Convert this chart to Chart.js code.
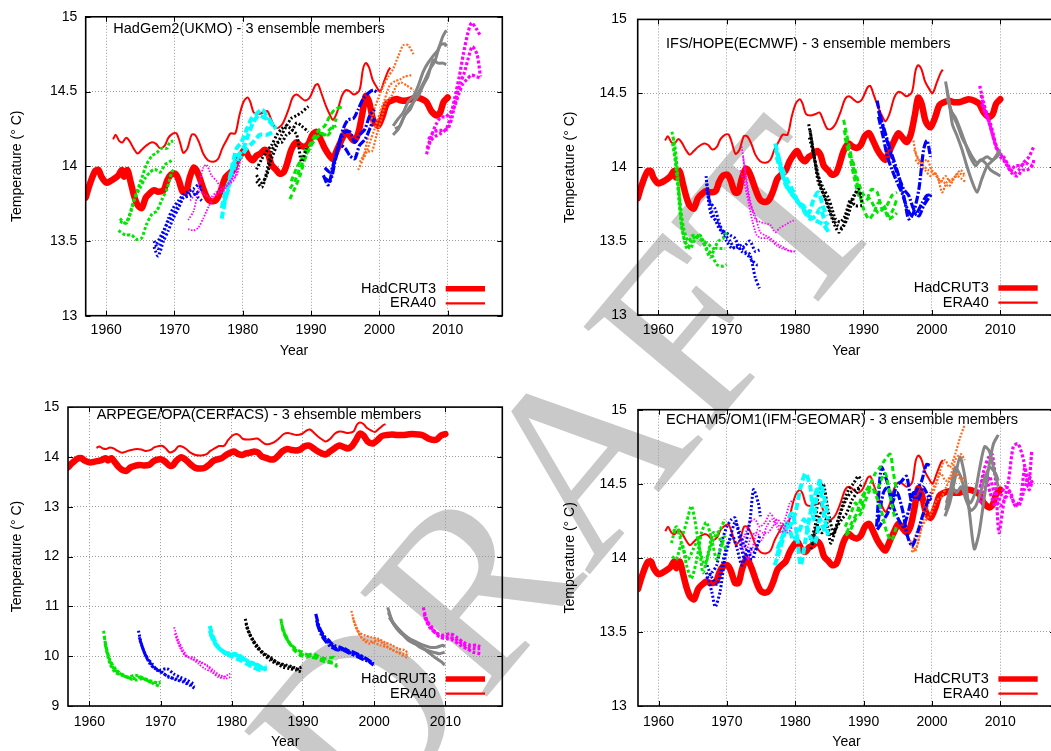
<!DOCTYPE html>
<html>
<head>
<meta charset="utf-8">
<script src="https://cdn.jsdelivr.net/npm/chart.js@4.4.1/dist/chart.umd.min.js"></script>
<style>
html,body{margin:0;padding:0;background:#fff;width:1051px;height:751px;overflow:hidden;position:relative;}
#wm{position:absolute;left:564px;top:474px;transform:translate(-50%,-50%) rotate(-50deg);font-family:"Liberation Serif","DejaVu Serif",serif;font-size:250px;line-height:1;color:#c9c9c9;white-space:nowrap;}
canvas{position:absolute;}
</style>
</head>
<body>
<div id="wm">DRAFT</div>
<canvas id="tl" width="525" height="375" style="left:0;top:0;width:525px;height:375px"></canvas>
<canvas id="tr" width="500" height="375" style="left:560px;top:0;width:500px;height:375px"></canvas>
<canvas id="bl" width="525" height="361" style="left:0;top:390px;width:525px;height:361px"></canvas>
<canvas id="br" width="500" height="361" style="left:560px;top:390px;width:500px;height:361px"></canvas>
<script>
// ---------------- axes ----------------
const xTicks = [1960,1970,1980,1990,2000,2010];
const xTickLabels = ['1960','1970','1980','1990','2000','2010'];
const yTicksStd = [13,13.5,14,14.5,15];
const yTickLabelsStd = ['13','13.5','14','14.5','15'];
const yTicksArpege = [9,10,11,12,13,14,15];
const yTickLabelsArpege = ['9','10','11','12','13','14','15'];
const panelTitles = ['HadGem2(UKMO) - 3 ensemble members','IFS/HOPE(ECMWF) - 3 ensemble members','ARPEGE/OPA(CERFACS) - 3 ensemble members','ECHAM5/OM1(IFM-GEOMAR) - 3 ensemble members'];
const legendLabels = ['HadCRUT3','ERA40'];

// ---------------- observations ----------------
const hadcrut3 = [[1957.0,13.79],[1957.6,13.88],[1958.4,13.97],[1958.9,13.975],[1959.3,13.93],[1960.0,13.89],[1960.6,13.90],[1961.3,13.92],[1961.8,13.94],
[1962.3,13.975],[1962.6,13.93],[1963.1,13.975],[1963.6,13.89],[1964.1,13.80],[1964.6,13.74],[1965.2,13.72],[1965.8,13.79],[1966.4,13.82],
[1967.0,13.84],[1967.6,13.83],[1968.4,13.84],[1968.9,13.90],[1969.4,13.94],[1970.1,13.95],[1970.6,13.91],[1971.2,13.83],[1971.7,13.83],
[1972.2,13.92],[1972.8,13.99],[1973.2,13.975],[1973.7,13.92],[1974.3,13.84],[1974.9,13.78],[1975.6,13.765],[1976.2,13.78],[1976.8,13.84],
[1977.4,13.92],[1978.0,13.95],[1978.6,13.975],[1979.2,14.04],[1979.8,14.085],[1980.3,14.11],[1980.9,14.06],[1981.5,14.04],[1982.0,14.07],
[1982.6,14.085],[1983.2,14.11],[1983.7,14.085],[1984.2,14.01],[1984.9,13.975],[1985.4,13.95],[1986.0,13.96],[1986.5,14.02],[1987.1,14.11],
[1987.8,14.16],[1988.4,14.14],[1989.0,14.13],[1989.6,14.15],[1990.2,14.21],[1990.8,14.23],[1991.4,14.18],[1992.0,14.12],[1992.7,14.07],
[1993.2,14.05],[1993.8,14.11],[1994.5,14.18],[1995.1,14.23],[1995.7,14.20],[1996.3,14.17],[1996.9,14.22],[1997.5,14.35],[1998.0,14.47],
[1998.5,14.43],[1999.1,14.31],[1999.8,14.27],[2000.5,14.34],[2001.1,14.42],[2001.8,14.44],[2002.5,14.45],[2003.2,14.44],[2004.0,14.44],
[2004.7,14.45],[2005.4,14.46],[2006.2,14.45],[2006.9,14.43],[2007.6,14.37],[2008.4,14.34],[2008.9,14.36],[2009.4,14.43],[2010.0,14.46]];

const era40 = [[1961.0,14.18],[1961.4,14.21],[1961.9,14.17],[1962.4,14.16],[1962.9,14.19],[1963.4,14.17],[1964.0,14.12],[1964.6,14.085],
[1965.2,14.11],[1965.9,14.14],[1966.7,14.16],[1967.3,14.15],[1967.9,14.12],[1968.6,14.14],[1969.1,14.19],[1969.8,14.22],[1970.3,14.22],
[1970.8,14.16],[1971.3,14.09],[1971.9,14.12],[1972.5,14.21],[1973.0,14.21],[1973.6,14.16],[1974.2,14.085],[1974.9,14.04],[1975.7,14.03],
[1976.4,14.05],[1977.0,14.12],[1977.7,14.18],[1978.2,14.22],[1978.9,14.22],[1979.5,14.34],[1980.1,14.43],[1980.7,14.46],[1981.1,14.43],
[1981.6,14.36],[1982.3,14.35],[1983.0,14.36],[1983.6,14.37],[1984.1,14.32],[1984.7,14.26],[1985.3,14.26],[1985.9,14.29],[1986.7,14.38],
[1987.3,14.46],[1987.9,14.48],[1988.5,14.46],[1989.1,14.44],[1989.8,14.46],[1990.6,14.54],[1991.0,14.55],[1991.5,14.49],[1992.2,14.40],
[1992.8,14.34],[1993.2,14.31],[1993.8,14.36],[1994.5,14.47],[1995.1,14.51],[1995.7,14.50],[1996.3,14.48],[1997.1,14.51],[1997.6,14.65],
[1998.0,14.69],[1998.5,14.66],[1999.0,14.58],[1999.6,14.53],[2000.1,14.50],[2000.7,14.57],[2001.3,14.64],[2001.6,14.66]];

// ---------------- HadGem2 (UKMO) ensemble members ----------------
const hadgem2_1962 = [
 [[1962.0,13.63],[1963.0,13.62],[1963.7,13.72],[1964.5,13.83],[1965.2,13.92],[1965.9,14.01],[1966.7,14.07],[1967.4,14.09],[1968.1,14.12],[1968.9,14.12],[1969.3,14.16],[1969.8,14.17]],
 [[1961.8,13.57],[1962.8,13.54],[1963.7,13.54],[1964.5,13.51],[1965.2,13.52],[1965.9,13.61],[1966.7,13.68],[1967.4,13.70],[1968.1,13.77],[1968.9,13.85],[1969.6,13.96],[1969.9,13.98]],
 [[1962.0,13.65],[1962.8,13.62],[1963.5,13.68],[1964.2,13.79],[1964.9,13.85],[1965.7,13.92],[1966.4,13.96],[1967.1,13.98],[1967.9,13.96],[1968.6,14.01],[1969.3,14.03],[1969.8,14.05]]];
const hadgem2_1967 = [
 [[1967.0,13.50],[1967.6,13.45],[1968.4,13.55],[1969.1,13.65],[1969.8,13.72],[1970.6,13.77],[1971.3,13.81],[1972.0,13.83],[1972.8,13.85],[1973.5,13.875],[1974.0,13.85]],
 [[1967.0,13.46],[1967.6,13.40],[1968.4,13.50],[1969.1,13.57],[1969.8,13.65],[1970.6,13.72],[1971.3,13.79],[1972.0,13.81],[1972.8,13.83],[1973.5,13.79],[1974.0,13.77]],
 [[1967.4,13.48],[1968.4,13.57],[1969.1,13.63],[1969.8,13.68],[1970.6,13.74],[1971.3,13.79],[1972.3,13.80],[1973.2,13.82],[1974.0,13.85]]];
const hadgem2_1972 = [
 [[1972.0,13.64],[1972.8,13.70],[1973.5,13.85],[1974.2,13.99],[1974.7,14.01],[1975.4,13.94],[1976.2,13.90],[1976.9,13.85],[1977.6,13.875],[1978.6,13.90],[1979.3,13.99]],
 [[1972.0,13.58],[1972.8,13.57],[1973.5,13.59],[1974.2,13.65],[1975.0,13.73],[1975.7,13.79],[1976.4,13.82],[1977.1,13.83],[1978.1,13.90],[1979.1,13.94],[1979.6,14.03]],
 [[1972.3,13.77],[1973.0,13.81],[1973.7,13.83],[1974.5,13.81],[1975.2,13.79],[1976.2,13.83],[1977.1,13.85],[1978.1,13.89],[1979.1,13.99],[1979.6,14.05]]];
const hadgem2_1977 = [
 [[1976.9,13.65],[1977.6,13.81],[1978.4,13.99],[1979.1,14.12],[1979.8,14.16],[1980.6,14.25],[1981.3,14.32],[1982.0,14.35],[1982.8,14.38],[1983.5,14.34],[1984.2,14.29],[1984.9,14.25]],
 [[1977.1,13.74],[1977.9,13.85],[1978.6,14.01],[1979.3,14.07],[1980.1,14.12],[1980.8,14.21],[1981.5,14.29],[1982.3,14.34],[1983.0,14.33],[1983.7,14.31],[1984.5,14.27]],
 [[1976.9,13.72],[1977.6,13.85],[1978.4,13.94],[1979.1,14.03],[1979.8,14.07],[1980.6,14.12],[1981.5,14.16],[1982.5,14.21],[1983.5,14.21],[1984.5,14.23]]];
const hadgem2_1982 = [
 [[1982.0,13.94],[1982.8,13.89],[1983.5,13.94],[1984.2,14.05],[1985.0,14.14],[1985.7,14.21],[1986.4,14.27],[1987.1,14.32],[1987.9,14.34],[1988.6,14.36],[1989.6,14.40]],
 [[1982.0,13.90],[1982.8,13.86],[1983.5,13.96],[1984.2,14.10],[1985.0,14.16],[1985.7,14.16],[1986.4,14.21],[1987.1,14.23],[1987.9,14.29],[1988.6,14.27],[1989.6,14.23]],
 [[1982.0,13.98],[1982.8,14.05],[1983.5,14.10],[1984.2,14.14],[1985.0,14.21],[1985.7,14.25],[1986.4,14.27],[1987.1,14.25],[1987.9,14.21],[1988.6,14.03],[1989.3,14.12]]];
const hadgem2_1987 = [
 [[1986.9,13.78],[1987.6,13.85],[1988.4,13.94],[1989.1,14.05],[1989.8,14.14],[1990.6,14.21],[1991.3,14.25],[1992.0,14.27],[1992.8,14.34],[1993.5,14.38],[1994.7,14.40]],
 [[1986.9,13.85],[1987.6,13.90],[1988.4,13.99],[1989.1,14.05],[1989.8,14.12],[1990.6,14.18],[1991.3,14.21],[1992.0,14.21],[1992.8,14.25],[1993.7,14.27]],
 [[1987.1,13.90],[1987.9,13.99],[1988.6,14.05],[1989.3,14.12],[1990.1,14.16],[1990.8,14.21],[1991.5,14.22],[1992.5,14.21],[1993.2,14.26],[1993.7,14.32]]];
const hadgem2_1992 = [
 [[1991.8,13.94],[1992.5,13.875],[1993.2,13.99],[1994.0,14.14],[1994.7,14.25],[1995.4,14.31],[1996.2,14.32],[1996.9,14.38],[1997.6,14.45],[1998.4,14.49],[1999.1,14.51],[1999.8,14.49]],
 [[1992.0,13.92],[1992.8,13.90],[1993.5,14.03],[1994.2,14.16],[1995.0,14.23],[1995.7,14.23],[1996.4,14.16],[1997.1,14.21],[1997.9,14.25],[1998.6,14.34],[1999.3,14.38]],
 [[1992.0,13.99],[1992.8,13.96],[1993.5,14.05],[1994.2,14.14],[1995.0,14.12],[1995.7,14.07],[1996.4,14.05],[1997.1,14.14],[1997.9,14.18],[1998.6,14.25],[1999.3,14.32]]];
const hadgem2_1997 = [
 [[1996.9,13.975],[1997.6,14.05],[1998.4,14.21],[1999.1,14.36],[1999.8,14.45],[2000.6,14.54],[2001.3,14.60],[2002.0,14.65],[2002.8,14.74],[2003.5,14.81],[2004.2,14.81],[2005.0,14.75]],
 [[1997.1,14.03],[1997.9,14.07],[1998.6,14.16],[1999.3,14.25],[2000.1,14.36],[2000.8,14.45],[2001.5,14.54],[2002.3,14.57],[2003.0,14.58],[2003.7,14.60],[2004.7,14.61]],
 [[1997.4,14.05],[1998.1,14.10],[1998.9,14.10],[1999.6,14.21],[2000.3,14.32],[2001.0,14.43],[2001.8,14.47],[2002.5,14.54],[2003.2,14.56],[2004.0,14.54],[2005.0,14.51]]];
const hadgem2_2002 = [
 [[2002.0,14.27],[2002.8,14.32],[2003.5,14.36],[2004.2,14.43],[2005.0,14.47],[2005.7,14.54],[2006.4,14.63],[2007.1,14.69],[2007.9,14.74],[2008.6,14.78],[2009.3,14.87],[2009.8,14.91]],
 [[2002.0,14.21],[2002.8,14.25],[2003.5,14.32],[2004.2,14.38],[2005.0,14.43],[2005.7,14.47],[2006.4,14.54],[2007.1,14.60],[2007.9,14.71],[2008.6,14.69],[2009.3,14.69],[2009.8,14.68]],
 [[2002.3,14.25],[2003.0,14.27],[2003.7,14.34],[2004.5,14.38],[2005.2,14.45],[2005.9,14.51],[2006.7,14.58],[2007.4,14.65],[2008.1,14.70],[2008.9,14.81],[2009.6,14.82],[2009.8,14.80]]];
const hadgem2_2007 = [
 [[2006.9,14.08],[2007.5,14.17],[2008.2,14.20],[2009.0,14.22],[2009.8,14.25],[2010.4,14.33],[2011.0,14.45],[2011.7,14.60],[2012.3,14.75],[2012.9,14.88],[2013.5,14.96],[2014.2,14.92],[2014.7,14.88]],
 [[2007.0,14.12],[2007.6,14.20],[2008.3,14.28],[2009.0,14.33],[2009.7,14.33],[2010.4,14.36],[2011.0,14.40],[2011.6,14.48],[2012.2,14.55],[2012.8,14.58],[2013.5,14.61],[2014.2,14.60],[2014.8,14.59]],
 [[2007.2,14.18],[2007.8,14.22],[2008.5,14.24],[2009.2,14.24],[2010.0,14.25],[2010.6,14.32],[2011.2,14.45],[2011.8,14.55],[2012.4,14.62],[2013.0,14.72],[2013.6,14.80],[2014.3,14.75],[2014.8,14.60]]];

// ---------------- IFS/HOPE (ECMWF) ensemble members ----------------
const ifs_1962 = [
 [[1962.0,14.24],[1962.5,14.12],[1963.0,13.85],[1963.4,13.61],[1964.2,13.45],[1964.9,13.50],[1965.6,13.54],[1966.4,13.50],[1967.1,13.45],[1967.8,13.41],[1968.6,13.34],[1969.5,13.33],[1970.0,13.34]],
 [[1962.1,14.16],[1962.7,13.98],[1963.2,13.76],[1963.7,13.59],[1964.4,13.50],[1965.1,13.54],[1965.9,13.52],[1966.6,13.50],[1967.3,13.48],[1968.1,13.45],[1968.8,13.50],[1969.5,13.52],[1970.0,13.56]],
 [[1962.2,14.20],[1962.8,13.90],[1963.3,13.65],[1963.9,13.50],[1964.7,13.45],[1965.4,13.52],[1966.1,13.54],[1966.9,13.46],[1967.6,13.39],[1968.3,13.45],[1969.0,13.45],[1969.8,13.45]]];
const ifs_1967 = [
 [[1967.0,13.94],[1967.3,13.79],[1967.8,13.67],[1968.6,13.63],[1969.3,13.56],[1970.0,13.50],[1970.8,13.45],[1971.5,13.47],[1972.2,13.43],[1973.0,13.41],[1973.7,13.37],[1974.4,13.34],[1974.8,13.34]],
 [[1967.1,13.85],[1967.6,13.76],[1968.3,13.72],[1969.0,13.61],[1969.8,13.54],[1970.5,13.50],[1971.2,13.45],[1972.0,13.47],[1972.7,13.43],[1973.4,13.41],[1974.2,13.25],[1974.8,13.18]],
 [[1967.1,13.89],[1967.7,13.72],[1968.3,13.65],[1969.0,13.58],[1969.8,13.56],[1970.5,13.54],[1971.2,13.52],[1972.0,13.45],[1972.7,13.47],[1973.4,13.50],[1974.2,13.43],[1974.8,13.44]]];
const ifs_1972 = [
 [[1972.2,14.14],[1972.7,13.98],[1973.2,13.83],[1973.7,13.72],[1974.2,13.65],[1974.9,13.63],[1975.6,13.62],[1976.4,13.61],[1977.1,13.56],[1977.8,13.59],[1978.6,13.61],[1979.3,13.63],[1979.8,13.64]],
 [[1972.0,13.98],[1972.6,13.89],[1973.2,13.76],[1973.8,13.63],[1974.4,13.54],[1975.1,13.52],[1975.9,13.52],[1976.6,13.50],[1977.3,13.47],[1978.1,13.45],[1978.8,13.44],[1979.8,13.43]],
 [[1972.4,14.07],[1972.9,13.89],[1973.4,13.76],[1974.2,13.67],[1974.9,13.56],[1975.6,13.54],[1976.4,13.52],[1977.1,13.49],[1977.8,13.47],[1978.6,13.45],[1979.3,13.43],[1980.0,13.43]]];
const ifs_1977 = [
 [[1977.1,14.16],[1977.6,14.07],[1978.3,13.92],[1979.0,13.85],[1979.8,13.81],[1980.5,13.76],[1981.2,13.72],[1982.0,13.67],[1982.7,13.65],[1983.4,13.63],[1984.2,13.61],[1984.9,13.56]],
 [[1977.2,14.12],[1977.8,14.03],[1978.4,13.96],[1979.0,13.90],[1979.8,13.83],[1980.5,13.76],[1981.2,13.74],[1982.0,13.69],[1982.7,13.78],[1983.4,13.83],[1984.2,13.72],[1984.7,13.67]],
 [[1977.3,14.07],[1977.9,13.98],[1978.6,13.90],[1979.3,13.83],[1980.0,13.79],[1980.8,13.74],[1981.5,13.69],[1982.2,13.65],[1983.0,13.67],[1983.7,13.72],[1984.4,13.63],[1984.9,13.61]]];
const ifs_1982 = [
 [[1982.0,14.29],[1982.5,14.16],[1983.0,14.01],[1983.4,13.90],[1984.2,13.81],[1984.9,13.72],[1985.6,13.63],[1986.4,13.56],[1987.1,13.61],[1987.8,13.72],[1988.6,13.81],[1989.3,13.85],[1989.8,13.76]],
 [[1982.1,14.20],[1982.7,14.09],[1983.3,13.96],[1983.9,13.85],[1984.7,13.76],[1985.4,13.67],[1986.1,13.61],[1986.9,13.59],[1987.6,13.65],[1988.3,13.76],[1989.0,13.83],[1989.8,13.81]],
 [[1982.2,14.25],[1982.8,14.07],[1983.4,13.94],[1984.2,13.85],[1984.9,13.79],[1985.4,13.72],[1985.9,13.65],[1986.6,13.63],[1987.3,13.67],[1988.1,13.78],[1988.8,13.74],[1989.8,13.74]]];
const ifs_1987 = [
 [[1987.1,14.32],[1987.6,14.21],[1988.1,14.10],[1988.6,13.98],[1989.3,13.85],[1990.0,13.72],[1990.8,13.65],[1991.5,13.69],[1992.2,13.76],[1993.0,13.74],[1993.7,13.67],[1994.4,13.72],[1994.9,13.79]],
 [[1987.2,14.25],[1987.8,14.12],[1988.5,14.03],[1989.0,13.94],[1989.8,13.83],[1990.5,13.79],[1991.2,13.85],[1992.0,13.83],[1992.7,13.72],[1993.4,13.74],[1994.2,13.81],[1994.9,13.83]],
 [[1987.3,14.20],[1988.0,14.07],[1988.6,13.94],[1989.3,13.81],[1990.0,13.76],[1990.8,13.79],[1991.5,13.74],[1992.2,13.69],[1993.0,13.72],[1993.7,13.65],[1994.4,13.67],[1994.9,13.69]]];
const ifs_1992 = [
 [[1992.0,14.45],[1992.5,14.34],[1993.2,14.23],[1993.9,14.12],[1994.7,14.01],[1995.4,13.90],[1996.1,13.76],[1996.6,13.65],[1997.3,13.69],[1998.1,13.85],[1998.8,14.12],[1999.3,14.18],[1999.8,14.07]],
 [[1992.2,14.38],[1993.0,14.25],[1993.7,14.14],[1994.4,14.03],[1995.1,13.94],[1995.9,13.85],[1996.6,13.81],[1997.3,13.72],[1998.1,13.67],[1998.8,13.74],[1999.5,13.79],[2000.0,13.82]],
 [[1992.2,14.34],[1992.9,14.20],[1993.5,14.07],[1994.2,13.98],[1994.9,13.90],[1995.6,13.83],[1996.4,13.72],[1997.1,13.67],[1997.8,13.69],[1998.6,13.76],[1999.3,13.81],[2000.0,13.81]]];
const ifs_1997 = [
 [[1997.3,14.18],[1997.8,14.07],[1998.6,14.03],[1999.3,14.05],[2000.0,13.98],[2000.8,13.94],[2001.5,13.83],[2002.2,13.90],[2003.0,13.92],[2003.7,13.94],[2004.4,13.92],[2004.9,13.90]],
 [[1997.4,14.12],[1998.1,14.05],[1998.8,14.01],[1999.5,13.98],[2000.3,13.96],[2001.0,13.92],[2001.7,13.90],[2002.5,13.87],[2003.2,13.92],[2003.9,13.96],[2004.7,13.94]],
 [[1997.6,14.05],[1998.3,14.01],[1999.0,13.98],[1999.8,13.94],[2000.5,13.96],[2001.2,13.90],[2002.0,13.94],[2002.7,13.90],[2003.4,13.94],[2004.2,13.98],[2004.9,13.94]]];
const ifs_2002 = [
 [[2002.0,14.58],[2002.5,14.45],[2003.0,14.29],[2003.7,14.21],[2004.4,14.12],[2005.1,14.01],[2005.9,13.90],[2006.6,13.83],[2007.3,13.92],[2008.1,14.01],[2009.0,14.05],[2010.0,14.12]],
 [[2002.2,14.52],[2002.8,14.38],[2003.4,14.34],[2004.2,14.25],[2004.9,14.16],[2005.6,14.07],[2006.4,14.01],[2007.1,14.05],[2007.8,14.03],[2008.6,13.98],[2009.3,13.96],[2010.0,13.94]],
 [[2002.2,14.47],[2003.0,14.36],[2003.7,14.29],[2004.4,14.20],[2005.1,14.14],[2005.9,14.07],[2006.6,14.03],[2007.3,14.05],[2008.1,14.07],[2008.8,14.05],[2009.5,14.07],[2010.0,14.10]]];
const ifs_2007 = [
 [[2007.0,14.55],[2007.6,14.43],[2008.3,14.32],[2009.0,14.20],[2009.8,14.10],[2010.5,14.07],[2011.2,14.01],[2012.0,13.96],[2012.7,13.98],[2013.4,14.03],[2014.2,14.07],[2014.9,14.14]],
 [[2007.2,14.49],[2007.8,14.36],[2008.6,14.29],[2009.3,14.16],[2010.0,14.07],[2010.8,14.03],[2011.5,13.98],[2012.2,14.01],[2013.0,14.01],[2013.7,14.03],[2014.4,14.01],[2014.9,14.03]],
 [[2007.3,14.43],[2008.1,14.34],[2008.8,14.23],[2009.5,14.12],[2010.3,14.07],[2011.0,14.01],[2011.7,13.96],[2012.5,13.94],[2013.2,13.98],[2013.9,13.98],[2014.7,14.01],[2014.9,14.05]]];

// ---------------- ARPEGE/OPA (CERFACS) ensemble members ----------------
const arpege_1962 = [
 [[1962.0,10.51],[1962.4,10.12],[1962.9,9.85],[1963.6,9.68],[1964.5,9.62],[1965.5,9.58],[1966.4,9.62],[1967.3,9.58],[1968.3,9.52],[1969.2,9.48],[1969.9,9.45]],
 [[1962.1,10.38],[1962.7,9.98],[1963.4,9.75],[1964.3,9.65],[1965.2,9.58],[1966.2,9.55],[1967.1,9.58],[1968.0,9.52],[1969.0,9.45],[1969.9,9.39]],
 [[1962.2,10.25],[1962.9,9.92],[1963.8,9.72],[1964.8,9.62],[1965.7,9.55],[1966.6,9.52],[1967.6,9.55],[1968.5,9.48],[1969.5,9.47],[1970.0,9.48]]];
const arpege_1967 = [
 [[1966.9,10.51],[1967.3,10.25],[1968.0,9.98],[1968.8,9.85],[1969.5,9.72],[1970.4,9.65],[1971.3,9.58],[1972.3,9.52],[1973.2,9.48],[1974.1,9.42],[1974.8,9.35]],
 [[1967.0,10.38],[1967.6,10.12],[1968.3,9.92],[1969.0,9.78],[1969.9,9.72],[1970.9,9.75],[1971.8,9.65],[1972.7,9.58],[1973.7,9.52],[1974.6,9.45]],
 [[1967.1,10.32],[1967.8,10.05],[1968.5,9.85],[1969.2,9.75],[1970.2,9.68],[1971.1,9.58],[1972.0,9.55],[1973.0,9.52],[1973.9,9.45],[1974.8,9.39]]];
const arpege_1972 = [
 [[1971.9,10.58],[1972.5,10.32],[1973.2,10.12],[1973.9,9.98],[1974.8,9.92],[1975.8,9.88],[1976.7,9.78],[1977.6,9.65],[1978.6,9.58],[1979.8,9.65]],
 [[1972.0,10.45],[1972.7,10.18],[1973.4,10.02],[1974.4,9.95],[1975.3,9.85],[1976.2,9.75],[1977.2,9.68],[1978.1,9.58],[1979.1,9.55],[1979.8,9.58]],
 [[1972.2,10.38],[1973.0,10.12],[1973.7,9.98],[1974.6,9.98],[1975.5,9.88],[1976.5,9.82],[1977.4,9.72],[1978.3,9.62],[1979.3,9.58]]];
const arpege_1977 = [
 [[1976.9,10.61],[1977.4,10.38],[1978.1,10.18],[1978.8,10.08],[1979.8,10.05],[1980.7,10.02],[1981.6,9.95],[1982.6,9.88],[1983.5,9.82],[1984.4,9.75],[1984.9,9.78]],
 [[1976.9,10.51],[1977.6,10.28],[1978.3,10.15],[1979.3,10.05],[1980.2,9.98],[1981.2,9.92],[1982.1,9.85],[1983.0,9.78],[1984.0,9.72],[1984.9,9.75]],
 [[1977.0,10.45],[1977.8,10.22],[1978.6,10.12],[1979.5,10.02],[1980.5,10.05],[1981.4,9.98],[1982.3,9.88],[1983.3,9.85],[1984.2,9.78],[1984.9,9.80]]];
const arpege_1982 = [
 [[1981.9,10.75],[1982.3,10.51],[1983.0,10.32],[1983.7,10.18],[1984.4,10.05],[1985.4,9.98],[1986.3,9.88],[1987.2,9.82],[1988.1,9.78],[1989.1,9.75],[1989.8,9.78]],
 [[1982.0,10.65],[1982.6,10.42],[1983.3,10.25],[1984.0,10.12],[1984.9,10.02],[1985.8,9.92],[1986.8,9.85],[1987.7,9.82],[1988.6,9.78],[1989.6,9.72]],
 [[1982.1,10.58],[1982.8,10.35],[1983.5,10.18],[1984.4,10.05],[1985.4,9.92],[1986.3,9.85],[1987.2,9.78],[1988.1,9.75],[1989.1,9.72],[1989.8,9.68]]];
const arpege_1987 = [
 [[1986.9,10.75],[1987.2,10.51],[1987.8,10.32],[1988.6,10.18],[1989.6,10.05],[1990.5,10.02],[1991.5,10.05],[1992.4,9.98],[1993.3,9.95],[1994.3,9.98],[1994.7,9.92]],
 [[1987.0,10.65],[1987.6,10.38],[1988.4,10.22],[1989.3,10.12],[1990.3,10.05],[1991.2,9.98],[1992.2,9.95],[1993.1,9.92],[1994.0,9.88],[1994.8,9.82]],
 [[1987.1,10.58],[1987.8,10.35],[1988.6,10.15],[1989.6,10.02],[1990.5,9.98],[1991.5,10.02],[1992.4,9.92],[1993.3,9.88],[1994.3,9.85],[1994.8,9.78]]];
const arpege_1992 = [
 [[1991.8,10.85],[1992.3,10.58],[1992.9,10.42],[1993.6,10.32],[1994.3,10.22],[1995.2,10.18],[1996.1,10.12],[1997.1,10.08],[1998.0,10.02],[1998.9,9.95],[1999.9,9.85]],
 [[1991.9,10.72],[1992.5,10.48],[1993.1,10.35],[1993.8,10.25],[1994.7,10.15],[1995.7,10.12],[1996.6,10.05],[1997.5,10.02],[1998.5,9.98],[1999.4,9.88],[1999.9,9.82]],
 [[1992.0,10.65],[1992.6,10.42],[1993.3,10.28],[1994.0,10.18],[1995.0,10.12],[1995.9,10.15],[1996.8,10.05],[1997.8,9.98],[1998.7,9.92],[1999.6,9.88]]];
const arpege_1997 = [
 [[1996.8,10.91],[1997.3,10.65],[1997.9,10.48],[1998.7,10.42],[1999.6,10.38],[2000.6,10.35],[2001.5,10.28],[2002.5,10.22],[2003.4,10.15],[2004.3,10.12],[2004.8,10.05]],
 [[1997.0,10.78],[1997.5,10.55],[1998.2,10.38],[1998.9,10.32],[1999.9,10.28],[2000.8,10.22],[2001.8,10.18],[2002.7,10.12],[2003.6,10.05],[2004.8,9.95]],
 [[1997.1,10.72],[1997.8,10.48],[1998.5,10.32],[1999.4,10.25],[2000.4,10.32],[2001.3,10.25],[2002.2,10.15],[2003.2,10.08],[2004.1,10.05],[2004.8,10.02]]];
const arpege_2002 = [
 [[2001.9,10.98],[2002.5,10.72],[2003.2,10.58],[2004.1,10.45],[2005.0,10.35],[2006.0,10.28],[2006.9,10.22],[2007.8,10.18],[2008.8,10.18],[2009.7,10.22],[2009.9,10.18]],
 [[2002.0,10.88],[2002.7,10.65],[2003.6,10.48],[2004.6,10.38],[2005.5,10.28],[2006.4,10.18],[2007.4,10.12],[2008.3,10.08],[2009.2,10.05],[2009.9,10.08]],
 [[2002.1,10.78],[2002.9,10.62],[2003.9,10.45],[2004.8,10.32],[2005.7,10.25],[2006.7,10.18],[2007.6,10.08],[2008.5,9.98],[2009.5,9.88],[2009.9,9.82]]];
const arpege_2007 = [
 [[2006.9,10.98],[2007.4,10.72],[2008.1,10.58],[2008.8,10.45],[2009.7,10.42],[2010.7,10.45],[2011.6,10.38],[2012.5,10.28],[2013.5,10.22],[2014.4,10.22],[2014.9,10.19]],
 [[2007.0,10.85],[2007.6,10.65],[2008.3,10.52],[2009.2,10.38],[2010.2,10.35],[2011.1,10.32],[2012.1,10.22],[2013.0,10.15],[2013.9,10.08],[2014.9,10.05]],
 [[2007.1,10.78],[2007.8,10.58],[2008.5,10.48],[2009.5,10.42],[2010.4,10.38],[2011.4,10.35],[2012.3,10.25],[2013.2,10.18],[2014.2,10.15],[2014.9,10.15]]];

// ---------------- ECHAM5/OM1 (IFM-GEOMAR) ensemble members ----------------
const echam_1962 = [
 [[1961.9,14.10],[1962.6,14.21],[1963.4,14.15],[1964.1,14.24],[1964.8,14.35],[1965.3,14.26],[1966.0,14.06],[1966.8,13.95],[1967.5,14.06],[1968.3,14.15],[1969.0,14.19],[1969.7,14.26]],
 [[1962.0,14.01],[1962.6,13.99],[1963.4,14.10],[1964.1,13.95],[1964.8,13.86],[1965.6,13.99],[1966.3,14.17],[1967.0,14.24],[1967.8,14.12],[1968.5,13.99],[1969.2,14.08],[1969.7,14.15]],
 [[1962.1,14.19],[1962.9,14.17],[1963.6,14.06],[1964.3,13.99],[1965.1,14.06],[1965.8,14.12],[1966.5,13.90],[1967.3,14.04],[1968.0,14.17],[1968.7,14.15],[1969.5,14.08],[1970.0,14.06]]];
const echam_1967 = [
 [[1967.0,13.90],[1967.8,13.77],[1968.3,13.67],[1969.0,13.77],[1969.7,13.99],[1970.4,14.12],[1971.2,14.24],[1971.9,14.17],[1972.6,14.08],[1973.4,14.26],[1973.9,14.46],[1974.6,14.37],[1974.9,14.28]],
 [[1967.0,13.86],[1967.8,13.90],[1968.5,13.95],[1969.2,14.10],[1970.0,14.21],[1970.7,14.26],[1971.2,14.27],[1971.9,14.12],[1972.6,13.99],[1973.4,14.06],[1974.1,14.04],[1974.8,14.15]],
 [[1967.1,13.95],[1967.9,13.86],[1968.6,13.82],[1969.3,13.95],[1970.0,14.08],[1970.8,14.15],[1971.5,14.06],[1972.2,13.95],[1973.0,14.06],[1973.7,13.99],[1974.4,14.08],[1974.8,14.12]]];
const echam_1972 = [
 [[1971.9,14.06],[1972.6,14.15],[1973.4,14.24],[1974.1,14.26],[1974.8,14.21],[1975.6,14.24],[1976.3,14.30],[1977.0,14.26],[1977.8,14.21],[1978.5,14.26],[1979.2,14.37],[1979.7,14.39]],
 [[1972.1,14.12],[1972.9,14.06],[1973.6,14.15],[1974.4,14.17],[1975.1,14.12],[1975.8,14.21],[1976.6,14.26],[1977.3,14.21],[1978.0,14.17],[1978.8,14.24],[1979.5,14.28]],
 [[1972.2,14.08],[1973.0,13.99],[1973.7,14.06],[1974.5,14.19],[1975.2,14.17],[1976.0,14.17],[1976.7,14.21],[1977.4,14.26],[1978.2,14.21],[1978.9,14.17],[1979.6,14.21]]];
const echam_1977 = [
 [[1977.0,13.95],[1977.8,14.06],[1978.5,14.17],[1979.2,14.21],[1980.0,14.30],[1980.7,14.46],[1981.5,14.57],[1982.2,14.48],[1982.7,14.26],[1983.2,14.44],[1983.6,14.52],[1984.4,14.37],[1984.8,14.26]],
 [[1977.3,14.01],[1978.0,14.12],[1978.8,14.24],[1979.5,14.30],[1980.2,14.17],[1980.8,13.95],[1981.5,14.12],[1982.2,14.30],[1983.0,14.44],[1983.6,14.50],[1984.1,14.32],[1984.8,14.15]],
 [[1977.4,14.06],[1978.2,14.15],[1979.0,14.21],[1979.7,14.12],[1980.5,14.17],[1981.3,14.26],[1982.1,14.15],[1982.9,14.10],[1983.6,14.26],[1984.4,14.17],[1984.8,14.19]]];
const echam_1982 = [
 [[1982.2,14.12],[1982.9,14.21],[1983.4,14.44],[1984.1,14.50],[1984.8,14.32],[1985.6,14.17],[1986.3,14.26],[1987.0,14.37],[1987.8,14.46],[1988.5,14.50],[1989.2,14.55],[1989.7,14.52]],
 [[1982.3,14.06],[1983.0,14.17],[1983.7,14.30],[1984.5,14.26],[1985.2,14.10],[1985.9,14.19],[1986.6,14.30],[1987.4,14.39],[1988.1,14.44],[1988.8,14.46],[1989.6,14.48]],
 [[1982.4,14.10],[1983.2,14.21],[1983.9,14.17],[1984.6,14.21],[1985.3,14.15],[1986.1,14.21],[1986.8,14.26],[1987.5,14.30],[1988.3,14.39],[1989.0,14.44],[1989.7,14.50]]];
const echam_1987 = [
 [[1987.3,14.21],[1988.0,14.28],[1988.8,14.37],[1989.5,14.32],[1990.2,14.44],[1991.0,14.50],[1991.7,14.57],[1992.4,14.61],[1993.1,14.66],[1993.9,14.70],[1994.3,14.59],[1994.8,14.46]],
 [[1987.4,14.15],[1988.1,14.19],[1988.8,14.26],[1989.6,14.30],[1990.3,14.39],[1991.0,14.46],[1991.8,14.44],[1992.5,14.52],[1993.2,14.57],[1994.0,14.39],[1994.6,14.26]],
 [[1987.5,14.17],[1988.3,14.24],[1989.0,14.30],[1989.7,14.41],[1990.5,14.46],[1991.2,14.48],[1991.9,14.41],[1992.6,14.32],[1993.4,14.17],[1994.1,14.12],[1994.8,14.21]]];
const echam_1992 = [
 [[1991.9,14.21],[1992.6,14.61],[1993.4,14.52],[1994.1,14.39],[1994.8,14.48],[1995.6,14.52],[1996.3,14.55],[1997.0,14.39],[1997.8,14.46],[1998.5,14.52],[1999.2,14.63],[1999.9,14.62]],
 [[1992.0,14.19],[1992.7,14.24],[1993.5,14.30],[1994.2,14.37],[1994.9,14.44],[1995.7,14.32],[1996.4,14.15],[1997.1,14.08],[1997.9,14.17],[1998.6,14.28],[1999.3,14.37],[1999.9,14.44]],
 [[1992.1,14.24],[1992.9,14.44],[1993.6,14.48],[1994.3,14.35],[1995.1,14.26],[1995.8,14.21],[1996.6,14.32],[1997.3,14.44],[1998.0,14.39],[1998.7,14.48],[1999.5,14.41],[1999.9,14.39]]];
const echam_1997 = [
 [[1996.8,14.12],[1997.5,14.04],[1998.3,14.17],[1999.0,14.30],[1999.7,14.39],[2000.5,14.48],[2001.2,14.59],[2001.9,14.66],[2002.6,14.61],[2003.4,14.70],[2004.1,14.81],[2004.8,14.90]],
 [[1996.9,14.08],[1997.6,14.15],[1998.4,14.26],[1999.1,14.37],[1999.8,14.44],[2000.5,14.50],[2001.3,14.57],[2002.0,14.52],[2002.7,14.55],[2003.4,14.66],[2004.2,14.70],[2004.8,14.66]],
 [[1997.0,14.04],[1997.8,14.08],[1998.5,14.21],[1999.2,14.26],[1999.9,14.30],[2000.7,14.39],[2001.4,14.41],[2002.1,14.48],[2002.9,14.55],[2003.6,14.57],[2004.3,14.52],[2004.8,14.55]]];
const echam_2002 = [
 [[2001.9,14.28],[2002.6,14.37],[2003.3,14.52],[2004.1,14.68],[2004.8,14.55],[2005.5,14.30],[2006.2,14.06],[2006.9,14.17],[2007.6,14.39],[2008.3,14.61],[2009.0,14.77],[2009.7,14.83]],
 [[2002.0,14.32],[2002.7,14.46],[2003.4,14.61],[2004.2,14.55],[2004.9,14.44],[2005.6,14.37],[2006.3,14.44],[2007.0,14.61],[2007.7,14.75],[2008.4,14.72],[2009.1,14.59],[2009.7,14.48]],
 [[2002.1,14.37],[2002.9,14.48],[2003.6,14.44],[2004.3,14.48],[2005.0,14.39],[2005.7,14.32],[2006.4,14.35],[2007.1,14.44],[2007.8,14.55],[2008.5,14.61],[2009.3,14.57],[2009.7,14.52]]];
const echam_2007 = [
 [[2006.9,14.44],[2007.6,14.59],[2008.3,14.68],[2008.8,14.70],[2009.3,14.52],[2009.8,14.17],[2010.5,14.37],[2011.2,14.52],[2011.9,14.75],[2012.6,14.77],[2013.4,14.66],[2014.1,14.48],[2014.6,14.72]],
 [[2007.0,14.37],[2007.7,14.46],[2008.4,14.55],[2009.1,14.44],[2009.9,14.35],[2010.6,14.39],[2011.3,14.44],[2012.0,14.37],[2012.7,14.35],[2013.5,14.46],[2014.2,14.55],[2014.7,14.50]],
 [[2007.1,14.48],[2007.8,14.57],[2008.5,14.44],[2009.3,14.35],[2010.0,14.41],[2010.7,14.48],[2011.5,14.44],[2012.2,14.35],[2012.9,14.39],[2013.6,14.61],[2014.2,14.46],[2014.7,14.52]]];

// ---------------- styles (per start date) ----------------
const startColors = ['#00e600','#0000ff','#ff00ff','#00ffff','#000000','#00e600','#0000ff','#ff6a1c','#858585','#ff00ff'];
const startWidths = [3,3,1.8,4,3,3,3.2,2.2,3,3.2];
const startDashes = [[3,2],[2,2],[1.5,1.5],[7,3],[2,2],[5,3],[8,2,2,2],[2,1.5],[],[3,2]];

const groups = {
  hadgem2:[hadgem2_1962,hadgem2_1967,hadgem2_1972,hadgem2_1977,hadgem2_1982,hadgem2_1987,hadgem2_1992,hadgem2_1997,hadgem2_2002,hadgem2_2007],
  ifs:[ifs_1962,ifs_1967,ifs_1972,ifs_1977,ifs_1982,ifs_1987,ifs_1992,ifs_1997,ifs_2002,ifs_2007],
  arpege:[arpege_1962,arpege_1967,arpege_1972,arpege_1977,arpege_1982,arpege_1987,arpege_1992,arpege_1997,arpege_2002,arpege_2007],
  echam:[echam_1962,echam_1967,echam_1972,echam_1977,echam_1982,echam_1987,echam_1992,echam_1997,echam_2002,echam_2007]
};

// ---------------- layout of the four panels ----------------
const panels = [
  {id:'tl', title:panelTitles[0], group:'hadgem2', yMin:13, yMax:15, yTicks:yTicksStd, yLabels:yTickLabelsStd,
   w:525, h:375, area:{l:85.7,t:13.3,r:502.3,b:315.7}, yPad:8.4, yTitlePad:8.9, xPad:6, xTitlePad:15, titleAt:[113.3,29.3]},
  {id:'tr', title:panelTitles[1], group:'ifs', yMin:13, yMax:15, yTicks:yTicksStd, yLabels:yTickLabelsStd,
   w:500, h:375, area:{l:77.7,t:13.7,r:495,b:315}, yPad:11, yTitlePad:1.6, xPad:6.6, xTitlePad:15, titleAt:[106,44]},
  {id:'bl', title:panelTitles[2], group:'arpege', yMin:9, yMax:15, yTicks:yTicksArpege, yLabels:yTickLabelsArpege,
   w:525, h:361, area:{l:68,t:15,r:502.3,b:316}, yPad:8.7, yTitlePad:8.9, xPad:7.3, xTitlePad:0, titleAt:[96.7,25]},
  {id:'br', title:panelTitles[3], group:'echam', yMin:13, yMax:15, yTicks:yTicksStd, yLabels:yTickLabelsStd,
   w:500, h:361, area:{l:78,t:15,r:495,b:316}, yPad:11.3, yTitlePad:1.6, xPad:7.3, xTitlePad:0, titleAt:[106,30]}
];

const FONT = '"Liberation Sans", Arial, Helvetica, sans-serif';
Chart.defaults.font.family = FONT;
Chart.defaults.font.size = 14;
Chart.defaults.color = '#000';

const framePlugin = {
  id: 'frame',
  afterDatasetsDraw(chart, args, opts) {
    const {ctx, chartArea: a, scales} = chart;
    const x = scales.x, y = scales.y;
    ctx.save();
    ctx.strokeStyle = '#000';
    ctx.lineWidth = 1;
    ctx.beginPath();
    x.ticks.forEach(t => {
      const px = Math.round(x.getPixelForValue(t.value)) + 0.5;
      ctx.moveTo(px, a.bottom); ctx.lineTo(px, a.bottom - 5);
      ctx.moveTo(px, a.top); ctx.lineTo(px, a.top + 5);
    });
    y.ticks.forEach(t => {
      const py = Math.round(y.getPixelForValue(t.value)) + 0.5;
      ctx.moveTo(a.left, py); ctx.lineTo(a.left + 5, py);
      ctx.moveTo(a.right, py); ctx.lineTo(a.right - 5, py);
    });
    ctx.stroke();
    ctx.lineWidth = 1.6;
    ctx.strokeRect(a.left, a.top, a.right - a.left, a.bottom - a.top);
    // panel title
    ctx.font = '14.5px ' + FONT;
    ctx.fillStyle = '#000';
    ctx.textBaseline = 'middle';
    ctx.textAlign = 'left';
    ctx.fillText(opts.title, opts.titleAt[0], opts.titleAt[1]);
    // legend
    ctx.textAlign = 'right';
    const rows = [{label: legendLabels[0], w: 5.5, dy: 27}, {label: legendLabels[1], w: 2.2, dy: 12.4}];
    rows.forEach(r => {
      const yy = a.bottom - r.dy;
      ctx.fillText(r.label, a.right - 66.3, yy);
      ctx.strokeStyle = '#ff0000';
      ctx.lineWidth = r.w;
      ctx.beginPath();
      ctx.moveTo(a.right - 56.6, yy); ctx.lineTo(a.right - 17.3, yy);
      ctx.stroke();
    });
    ctx.restore();
  }
};

function toXY(arr) { return arr.map(p => ({x: p[0], y: p[1]})); }

panels.forEach(p => {
  const datasets = [];
  datasets.push({label: legendLabels[0], data: toXY(hadcrut3), borderColor: '#ff0000', borderWidth: 6.5,
    borderJoinStyle: 'round', borderCapStyle: 'round', pointRadius: 0, tension: 0.3, order: 2});
  datasets.push({label: legendLabels[1], data: toXY(era40), borderColor: '#ff0000', borderWidth: 2,
    borderJoinStyle: 'round', pointRadius: 0, tension: 0.3, order: 2});
  groups[p.group].forEach((members, gi) => {
    members.forEach(m => {
      datasets.push({label: '', data: toXY(m), borderColor: startColors[gi], borderWidth: startWidths[gi],
        borderDash: startDashes[gi], pointRadius: 0, tension: 0.25, order: 1});
    });
  });
  new Chart(document.getElementById(p.id), {
    type: 'line',
    data: {datasets},
    plugins: [framePlugin],
    options: {
      responsive: false,
      animation: false,
      devicePixelRatio: 1,
      layout: {padding: {left: 0, top: p.area.t, right: p.w - p.area.r, bottom: 0}},
      plugins: {legend: {display: false}, tooltip: {enabled: false}, title: {display: false},
        frame: {title: p.title, titleAt: p.titleAt}},
      scales: {
        x: {
          type: 'linear', min: 1957, max: 2018,
          afterBuildTicks: s => { s.ticks = xTicks.map(v => ({value: v})); },
          afterFit: s => { s.height = p.h - p.area.b; },
          ticks: {autoSkip: false, maxRotation: 0, padding: p.xPad, color: '#000', font: {size: 14},
            callback: (v, i) => xTickLabels[i]},
          grid: {color: '#9a9a9a', lineWidth: 1, drawTicks: false},
          border: {display: false, dash: [1, 2]},
          title: {display: true, text: 'Year', color: '#000', font: {size: 14}, padding: {top: 0, bottom: p.xTitlePad}}
        },
        y: {
          type: 'linear', min: p.yMin, max: p.yMax,
          afterBuildTicks: s => { s.ticks = p.yTicks.map(v => ({value: v})); },
          afterFit: s => { s.width = p.area.l; },
          ticks: {autoSkip: false, padding: p.yPad, color: '#000', font: {size: 14},
            callback: (v, i) => p.yLabels[i]},
          grid: {color: '#9a9a9a', lineWidth: 1, drawTicks: false},
          border: {display: false, dash: [1, 2]},
          title: {display: true, text: 'Temperature (° C)', color: '#000', font: {size: 14}, padding: {top: p.yTitlePad, bottom: 0}}
        }
      }
    }
  });
});
</script>
</body>
</html>
